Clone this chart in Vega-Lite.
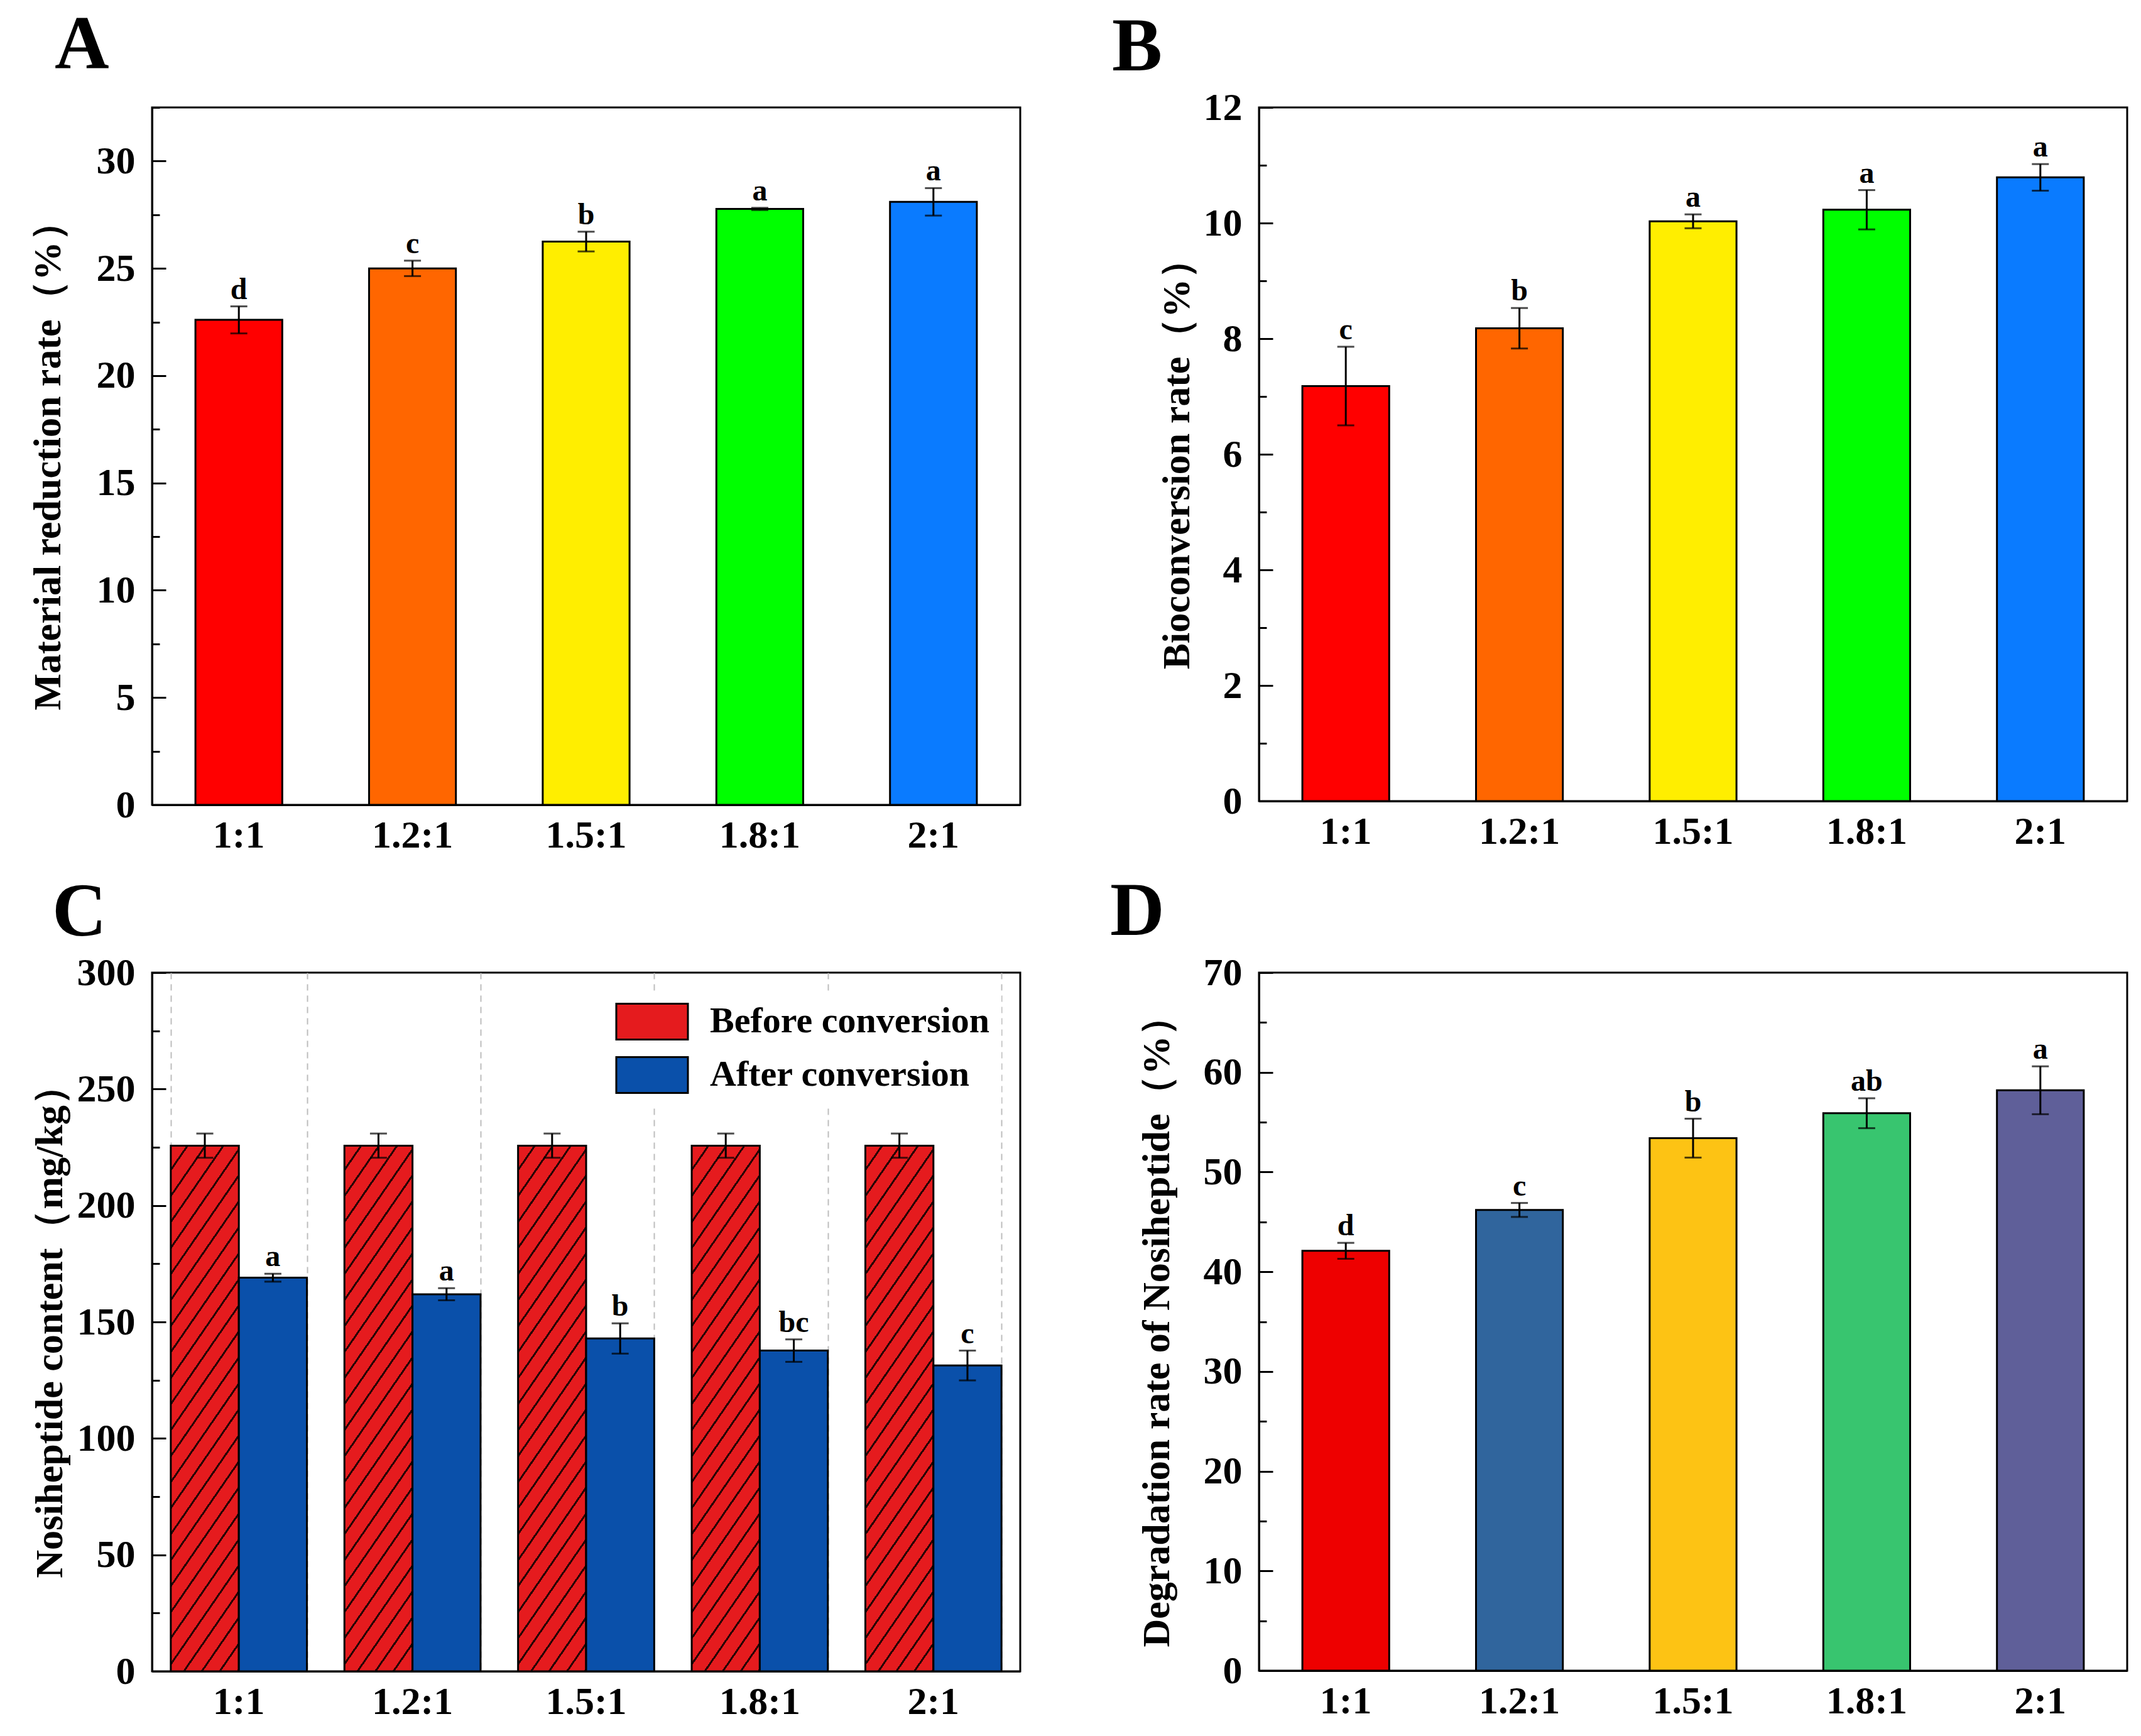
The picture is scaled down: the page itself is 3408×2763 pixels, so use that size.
{
  "$schema": "https://vega.github.io/schema/vega-lite/v6.json",
  "background": "white",
  "padding": {"left": 43, "top": 10, "right": 10, "bottom": 10},
  "columns": 2,
  "bounds": "flush",
  "spacing": {"row": 267, "column": 380},
  "resolve": {"scale": {"fill": "independent"}},
  "concat": [
    {
      "title": {"text": "A", "dx": -155, "offset": 7},
      "width": 1382,
      "height": 1110,
      "data": {"values": [
        {"ratio": "1:1", "mean": 22.6, "sd": 0.63, "sig": "d"},
        {"ratio": "1.2:1", "mean": 25.0, "sd": 0.36, "sig": "c"},
        {"ratio": "1.5:1", "mean": 26.25, "sd": 0.46, "sig": "b"},
        {"ratio": "1.8:1", "mean": 27.77, "sd": 0.05, "sig": "a"},
        {"ratio": "2:1", "mean": 28.1, "sd": 0.64, "sig": "a"}
      ]},
      "transform": [
        {"calculate": "datum.mean - datum.sd", "as": "lo"},
        {"calculate": "datum.mean + datum.sd", "as": "hi"}
      ],
      "encoding": {
        "x": {"field": "ratio", "type": "nominal", "sort": ["1:1", "1.2:1", "1.5:1", "1.8:1", "2:1"],
          "scale": {"paddingInner": 0.5, "paddingOuter": 0.25},
          "axis": {"title": null, "ticks": false, "labelAngle": 0, "labelPadding": 18}}
      },
      "layer": [
        {
          "mark": {"type": "bar", "stroke": "black", "strokeWidth": 3},
          "encoding": {
            "y": {"field": "mean", "type": "quantitative", "scale": {"domain": [0, 32.5], "nice": false},
              "axis": {"title": "Material reduction rate（%）", "format": "d",
                "values": [0, 2.5, 5, 7.5, 10, 12.5, 15, 17.5, 20, 22.5, 25, 27.5, 30, 32.5],
                "labelExpr": "datum.value % 5 === 0 ? datum.label : ''",
                "tickSize": {"condition": {"test": "datum.value % 5 === 0", "value": -22}, "value": -12},
                "labelPadding": 49, "titlePadding": 45}},
            "fill": {"field": "ratio", "type": "nominal", "legend": null,
              "scale": {"domain": ["1:1", "1.2:1", "1.5:1", "1.8:1", "2:1"], "range": ["#FF0000", "#FF6600", "#FFEE00", "#00FF00", "#0A7BFF"]}}
          }
        },
        {
          "mark": {"type": "rule", "strokeWidth": 3, "color": "black"},
          "encoding": {"y": {"field": "lo", "type": "quantitative"}, "y2": {"field": "hi"}}
        },
        {
          "mark": {"type": "tick", "thickness": 3, "size": 27, "color": "black"},
          "encoding": {"y": {"field": "lo", "type": "quantitative"}}
        },
        {
          "mark": {"type": "tick", "thickness": 3, "size": 27, "color": "black"},
          "encoding": {"y": {"field": "hi", "type": "quantitative"}}
        },
        {
          "mark": {"type": "text", "baseline": "alphabetic", "dy": -12, "fontSize": 48, "fontWeight": "bold", "font": "Liberation Serif", "color": "black"},
          "encoding": {"y": {"field": "hi", "type": "quantitative"}, "text": {"field": "sig"}}
        }
      ]
    },
    {
      "title": {"text": "B", "dx": -234, "offset": 3},
      "width": 1382,
      "height": 1104,
      "data": {"values": [
        {"ratio": "1:1", "mean": 7.18, "sd": 0.68, "sig": "c"},
        {"ratio": "1.2:1", "mean": 8.18, "sd": 0.35, "sig": "b"},
        {"ratio": "1.5:1", "mean": 10.03, "sd": 0.12, "sig": "a"},
        {"ratio": "1.8:1", "mean": 10.23, "sd": 0.34, "sig": "a"},
        {"ratio": "2:1", "mean": 10.79, "sd": 0.23, "sig": "a"}
      ]},
      "transform": [
        {"calculate": "datum.mean - datum.sd", "as": "lo"},
        {"calculate": "datum.mean + datum.sd", "as": "hi"}
      ],
      "encoding": {
        "x": {"field": "ratio", "type": "nominal", "sort": ["1:1", "1.2:1", "1.5:1", "1.8:1", "2:1"],
          "scale": {"paddingInner": 0.5, "paddingOuter": 0.25},
          "axis": {"title": null, "ticks": false, "labelAngle": 0, "labelPadding": 18}}
      },
      "layer": [
        {
          "mark": {"type": "bar", "stroke": "black", "strokeWidth": 3},
          "encoding": {
            "y": {"field": "mean", "type": "quantitative", "scale": {"domain": [0, 12], "nice": false},
              "axis": {"title": "Bioconversion rate（%）", "format": "d",
                "values": [0, 1, 2, 3, 4, 5, 6, 7, 8, 9, 10, 11, 12],
                "labelExpr": "datum.value % 2 === 0 ? datum.label : ''",
                "tickSize": {"condition": {"test": "datum.value % 2 === 0", "value": -22}, "value": -12},
                "labelPadding": 49, "titlePadding": 10}},
            "fill": {"field": "ratio", "type": "nominal", "legend": null,
              "scale": {"domain": ["1:1", "1.2:1", "1.5:1", "1.8:1", "2:1"], "range": ["#FF0000", "#FF6600", "#FFEE00", "#00FF00", "#0A7BFF"]}}
          }
        },
        {
          "mark": {"type": "rule", "strokeWidth": 3, "color": "black"},
          "encoding": {"y": {"field": "lo", "type": "quantitative"}, "y2": {"field": "hi"}}
        },
        {
          "mark": {"type": "tick", "thickness": 3, "size": 27, "color": "black"},
          "encoding": {"y": {"field": "lo", "type": "quantitative"}}
        },
        {
          "mark": {"type": "tick", "thickness": 3, "size": 27, "color": "black"},
          "encoding": {"y": {"field": "hi", "type": "quantitative"}}
        },
        {
          "mark": {"type": "text", "baseline": "alphabetic", "dy": -12, "fontSize": 48, "fontWeight": "bold", "font": "Liberation Serif", "color": "black"},
          "encoding": {"y": {"field": "hi", "type": "quantitative"}, "text": {"field": "sig"}}
        }
      ]
    },
    {
      "title": {"text": "C", "dx": -159, "offset": 3},
      "width": 1382,
      "height": 1112,
      "data": {"values": [
        {"ratio": "1:1", "group": "Before conversion", "mean": 225.7, "sd": 5.2, "sig": ""},
        {"ratio": "1:1", "group": "After conversion", "mean": 169.0, "sd": 1.7, "sig": "a"},
        {"ratio": "1.2:1", "group": "Before conversion", "mean": 225.7, "sd": 5.2, "sig": ""},
        {"ratio": "1.2:1", "group": "After conversion", "mean": 161.9, "sd": 2.6, "sig": "a"},
        {"ratio": "1.5:1", "group": "Before conversion", "mean": 225.7, "sd": 5.2, "sig": ""},
        {"ratio": "1.5:1", "group": "After conversion", "mean": 142.9, "sd": 6.5, "sig": "b"},
        {"ratio": "1.8:1", "group": "Before conversion", "mean": 225.7, "sd": 5.2, "sig": ""},
        {"ratio": "1.8:1", "group": "After conversion", "mean": 137.7, "sd": 4.8, "sig": "bc"},
        {"ratio": "2:1", "group": "Before conversion", "mean": 225.7, "sd": 5.2, "sig": ""},
        {"ratio": "2:1", "group": "After conversion", "mean": 131.3, "sd": 6.4, "sig": "c"}
      ]},
      "transform": [
        {"calculate": "datum.mean - datum.sd", "as": "lo"},
        {"calculate": "datum.mean + datum.sd", "as": "hi"}
      ],
      "resolve": {"axis": {"x": "independent"}},
      "layer": [
        {
          "transform": [{"filter": "datum.group === 'Before conversion'"}],
          "mark": {"type": "bar", "stroke": "black", "strokeWidth": 3,
            "fill": {"gradient": "linear", "x1": 0, "y1": 0, "x2": 0.2153, "y2": 1.1473, "stops": [
              {"offset": 0, "color": "#E51B1E"}, {"offset": 0.03625, "color": "#E51B1E"}, {"offset": 0.03625, "color": "#2A0505"}, {"offset": 0.041667, "color": "#2A0505"},
              {"offset": 0.041667, "color": "#E51B1E"}, {"offset": 0.07792, "color": "#E51B1E"}, {"offset": 0.07792, "color": "#2A0505"}, {"offset": 0.083333, "color": "#2A0505"},
              {"offset": 0.083333, "color": "#E51B1E"}, {"offset": 0.11958, "color": "#E51B1E"}, {"offset": 0.11958, "color": "#2A0505"}, {"offset": 0.125, "color": "#2A0505"},
              {"offset": 0.125, "color": "#E51B1E"}, {"offset": 0.16125, "color": "#E51B1E"}, {"offset": 0.16125, "color": "#2A0505"}, {"offset": 0.166667, "color": "#2A0505"},
              {"offset": 0.166667, "color": "#E51B1E"}, {"offset": 0.20292, "color": "#E51B1E"}, {"offset": 0.20292, "color": "#2A0505"}, {"offset": 0.208333, "color": "#2A0505"},
              {"offset": 0.208333, "color": "#E51B1E"}, {"offset": 0.24458, "color": "#E51B1E"}, {"offset": 0.24458, "color": "#2A0505"}, {"offset": 0.25, "color": "#2A0505"},
              {"offset": 0.25, "color": "#E51B1E"}, {"offset": 0.28625, "color": "#E51B1E"}, {"offset": 0.28625, "color": "#2A0505"}, {"offset": 0.291667, "color": "#2A0505"},
              {"offset": 0.291667, "color": "#E51B1E"}, {"offset": 0.32792, "color": "#E51B1E"}, {"offset": 0.32792, "color": "#2A0505"}, {"offset": 0.333333, "color": "#2A0505"},
              {"offset": 0.333333, "color": "#E51B1E"}, {"offset": 0.36958, "color": "#E51B1E"}, {"offset": 0.36958, "color": "#2A0505"}, {"offset": 0.375, "color": "#2A0505"},
              {"offset": 0.375, "color": "#E51B1E"}, {"offset": 0.41125, "color": "#E51B1E"}, {"offset": 0.41125, "color": "#2A0505"}, {"offset": 0.416667, "color": "#2A0505"},
              {"offset": 0.416667, "color": "#E51B1E"}, {"offset": 0.45292, "color": "#E51B1E"}, {"offset": 0.45292, "color": "#2A0505"}, {"offset": 0.458333, "color": "#2A0505"},
              {"offset": 0.458333, "color": "#E51B1E"}, {"offset": 0.49458, "color": "#E51B1E"}, {"offset": 0.49458, "color": "#2A0505"}, {"offset": 0.5, "color": "#2A0505"},
              {"offset": 0.5, "color": "#E51B1E"}, {"offset": 0.53625, "color": "#E51B1E"}, {"offset": 0.53625, "color": "#2A0505"}, {"offset": 0.541667, "color": "#2A0505"},
              {"offset": 0.541667, "color": "#E51B1E"}, {"offset": 0.57792, "color": "#E51B1E"}, {"offset": 0.57792, "color": "#2A0505"}, {"offset": 0.583333, "color": "#2A0505"},
              {"offset": 0.583333, "color": "#E51B1E"}, {"offset": 0.61958, "color": "#E51B1E"}, {"offset": 0.61958, "color": "#2A0505"}, {"offset": 0.625, "color": "#2A0505"},
              {"offset": 0.625, "color": "#E51B1E"}, {"offset": 0.66125, "color": "#E51B1E"}, {"offset": 0.66125, "color": "#2A0505"}, {"offset": 0.666667, "color": "#2A0505"},
              {"offset": 0.666667, "color": "#E51B1E"}, {"offset": 0.70292, "color": "#E51B1E"}, {"offset": 0.70292, "color": "#2A0505"}, {"offset": 0.708333, "color": "#2A0505"},
              {"offset": 0.708333, "color": "#E51B1E"}, {"offset": 0.74458, "color": "#E51B1E"}, {"offset": 0.74458, "color": "#2A0505"}, {"offset": 0.75, "color": "#2A0505"},
              {"offset": 0.75, "color": "#E51B1E"}, {"offset": 0.78625, "color": "#E51B1E"}, {"offset": 0.78625, "color": "#2A0505"}, {"offset": 0.791667, "color": "#2A0505"},
              {"offset": 0.791667, "color": "#E51B1E"}, {"offset": 0.82792, "color": "#E51B1E"}, {"offset": 0.82792, "color": "#2A0505"}, {"offset": 0.833333, "color": "#2A0505"},
              {"offset": 0.833333, "color": "#E51B1E"}, {"offset": 0.86958, "color": "#E51B1E"}, {"offset": 0.86958, "color": "#2A0505"}, {"offset": 0.875, "color": "#2A0505"},
              {"offset": 0.875, "color": "#E51B1E"}, {"offset": 0.91125, "color": "#E51B1E"}, {"offset": 0.91125, "color": "#2A0505"}, {"offset": 0.916667, "color": "#2A0505"},
              {"offset": 0.916667, "color": "#E51B1E"}, {"offset": 0.95292, "color": "#E51B1E"}, {"offset": 0.95292, "color": "#2A0505"}, {"offset": 0.958333, "color": "#2A0505"},
              {"offset": 0.958333, "color": "#E51B1E"}, {"offset": 0.99458, "color": "#E51B1E"}, {"offset": 0.99458, "color": "#2A0505"}, {"offset": 1, "color": "#2A0505"}
            ]}},
          "encoding": {
            "x": {"field": "ratio", "type": "nominal", "sort": ["1:1", "1.2:1", "1.5:1", "1.8:1", "2:1"],
              "scale": {"paddingInner": 0.216, "paddingOuter": 0.108},
              "axis": {"orient": "bottom", "title": null, "labels": false, "ticks": false, "domain": false, "grid": true, "tickBand": "extent",
                "gridColor": "#BDBDBD", "gridDash": [10, 8], "gridWidth": 2}},
            "xOffset": {"field": "group", "type": "nominal", "scale": {"domain": ["Before conversion", "After conversion"], "paddingInner": 0, "paddingOuter": 0}},
            "y": {"field": "mean", "type": "quantitative", "scale": {"domain": [0, 300], "nice": false},
              "axis": {"title": "Nosiheptide content（mg/kg）", "format": "d",
                "values": [0, 25, 50, 75, 100, 125, 150, 175, 200, 225, 250, 275, 300],
                "labelExpr": "datum.value % 50 === 0 ? datum.label : ''",
                "tickSize": {"condition": {"test": "datum.value % 50 === 0", "value": -22}, "value": -12},
                "labelPadding": 49, "titlePadding": 11}}
          }
        },
        {
          "transform": [{"filter": "datum.group === 'After conversion'"}],
          "mark": {"type": "bar", "stroke": "black", "strokeWidth": 3},
          "encoding": {
            "x": {"field": "ratio", "type": "nominal", "sort": ["1:1", "1.2:1", "1.5:1", "1.8:1", "2:1"],
              "axis": {"orient": "bottom", "title": null, "ticks": false, "labelAngle": 0, "labelPadding": 18}},
            "xOffset": {"field": "group", "type": "nominal", "scale": {"domain": ["Before conversion", "After conversion"]}},
            "y": {"field": "mean", "type": "quantitative"},
            "fill": {"field": "group", "type": "nominal",
              "scale": {"domain": ["Before conversion", "After conversion"], "range": ["#E51B1E", "#0A50AA"]},
              "legend": {"title": null, "orient": "top-right", "offset": 30, "padding": 18, "fillColor": "white",
                "labelFont": "Liberation Serif", "labelFontSize": 58, "labelFontWeight": "bold", "labelColor": "black",
                "labelOffset": 62, "rowPadding": 15, "labelLimit": 800,
                "symbolType": "M-2,-1L2,-1L2,1L-2,1Z", "symbolSize": 3249, "symbolStrokeColor": "black", "symbolStrokeWidth": 3, "symbolOpacity": 1}
            }
          }
        },
        {
          "mark": {"type": "rule", "strokeWidth": 3, "color": "black"},
          "encoding": {
            "x": {"field": "ratio", "type": "nominal", "sort": ["1:1", "1.2:1", "1.5:1", "1.8:1", "2:1"], "axis": null},
            "xOffset": {"field": "group", "type": "nominal", "scale": {"domain": ["Before conversion", "After conversion"]}},
            "y": {"field": "lo", "type": "quantitative"}, "y2": {"field": "hi"}
          }
        },
        {
          "mark": {"type": "tick", "thickness": 3, "size": 27, "color": "black"},
          "encoding": {
            "x": {"field": "ratio", "type": "nominal", "sort": ["1:1", "1.2:1", "1.5:1", "1.8:1", "2:1"], "axis": null},
            "xOffset": {"field": "group", "type": "nominal", "scale": {"domain": ["Before conversion", "After conversion"]}},
            "y": {"field": "lo", "type": "quantitative"}
          }
        },
        {
          "mark": {"type": "tick", "thickness": 3, "size": 27, "color": "black"},
          "encoding": {
            "x": {"field": "ratio", "type": "nominal", "sort": ["1:1", "1.2:1", "1.5:1", "1.8:1", "2:1"], "axis": null},
            "xOffset": {"field": "group", "type": "nominal", "scale": {"domain": ["Before conversion", "After conversion"]}},
            "y": {"field": "hi", "type": "quantitative"}
          }
        },
        {
          "transform": [{"filter": "datum.sig !== ''"}],
          "mark": {"type": "text", "baseline": "alphabetic", "dy": -12, "fontSize": 48, "fontWeight": "bold", "font": "Liberation Serif", "color": "black"},
          "encoding": {
            "x": {"field": "ratio", "type": "nominal", "sort": ["1:1", "1.2:1", "1.5:1", "1.8:1", "2:1"], "axis": null},
            "xOffset": {"field": "group", "type": "nominal", "scale": {"domain": ["Before conversion", "After conversion"]}},
            "y": {"field": "hi", "type": "quantitative"},
            "text": {"field": "sig"}
          }
        }
      ]
    },
    {
      "title": {"text": "D", "dx": -237, "offset": 4},
      "width": 1382,
      "height": 1111,
      "data": {"values": [
        {"ratio": "1:1", "mean": 42.1, "sd": 0.8, "sig": "d"},
        {"ratio": "1.2:1", "mean": 46.2, "sd": 0.7, "sig": "c"},
        {"ratio": "1.5:1", "mean": 53.4, "sd": 1.95, "sig": "b"},
        {"ratio": "1.8:1", "mean": 55.9, "sd": 1.5, "sig": "ab"},
        {"ratio": "2:1", "mean": 58.2, "sd": 2.4, "sig": "a"}
      ]},
      "transform": [
        {"calculate": "datum.mean - datum.sd", "as": "lo"},
        {"calculate": "datum.mean + datum.sd", "as": "hi"}
      ],
      "encoding": {
        "x": {"field": "ratio", "type": "nominal", "sort": ["1:1", "1.2:1", "1.5:1", "1.8:1", "2:1"],
          "scale": {"paddingInner": 0.5, "paddingOuter": 0.25},
          "axis": {"title": null, "ticks": false, "labelAngle": 0, "labelPadding": 18}}
      },
      "layer": [
        {
          "mark": {"type": "bar", "stroke": "black", "strokeWidth": 3},
          "encoding": {
            "y": {"field": "mean", "type": "quantitative", "scale": {"domain": [0, 70], "nice": false},
              "axis": {"title": "Degradation rate of Nosiheptide（%）", "format": "d",
                "values": [0, 5, 10, 15, 20, 25, 30, 35, 40, 45, 50, 55, 60, 65, 70],
                "labelExpr": "datum.value % 10 === 0 ? datum.label : ''",
                "tickSize": {"condition": {"test": "datum.value % 10 === 0", "value": -22}, "value": -12},
                "labelPadding": 49, "titlePadding": 42}},
            "fill": {"field": "ratio", "type": "nominal", "legend": null,
              "scale": {"domain": ["1:1", "1.2:1", "1.5:1", "1.8:1", "2:1"], "range": ["#EE0000", "#30659D", "#FDC314", "#38C56F", "#5F5F99"]}}
          }
        },
        {
          "mark": {"type": "rule", "strokeWidth": 3, "color": "black"},
          "encoding": {"y": {"field": "lo", "type": "quantitative"}, "y2": {"field": "hi"}}
        },
        {
          "mark": {"type": "tick", "thickness": 3, "size": 27, "color": "black"},
          "encoding": {"y": {"field": "lo", "type": "quantitative"}}
        },
        {
          "mark": {"type": "tick", "thickness": 3, "size": 27, "color": "black"},
          "encoding": {"y": {"field": "hi", "type": "quantitative"}}
        },
        {
          "mark": {"type": "text", "baseline": "alphabetic", "dy": -12, "fontSize": 48, "fontWeight": "bold", "font": "Liberation Serif", "color": "black"},
          "encoding": {"y": {"field": "hi", "type": "quantitative"}, "text": {"field": "sig"}}
        }
      ]
    }
  ],
  "config": {
    "font": "Liberation Serif",
    "view": {"stroke": "black", "strokeWidth": 3},
    "axis": {
      "labelFont": "Liberation Serif", "labelFontSize": 62, "labelFontWeight": "bold", "labelColor": "black", "labelOverlap": false,
      "titleFont": "Liberation Serif", "titleFontSize": 62, "titleFontWeight": "bold", "titleColor": "black",
      "domainColor": "black", "domainWidth": 3, "tickColor": "black", "tickWidth": 3, "grid": false
    },
    "title": {"font": "Liberation Serif", "fontSize": 120, "fontWeight": "bold", "anchor": "start", "frame": "group", "color": "black", "baseline": "alphabetic"}
  }
}
